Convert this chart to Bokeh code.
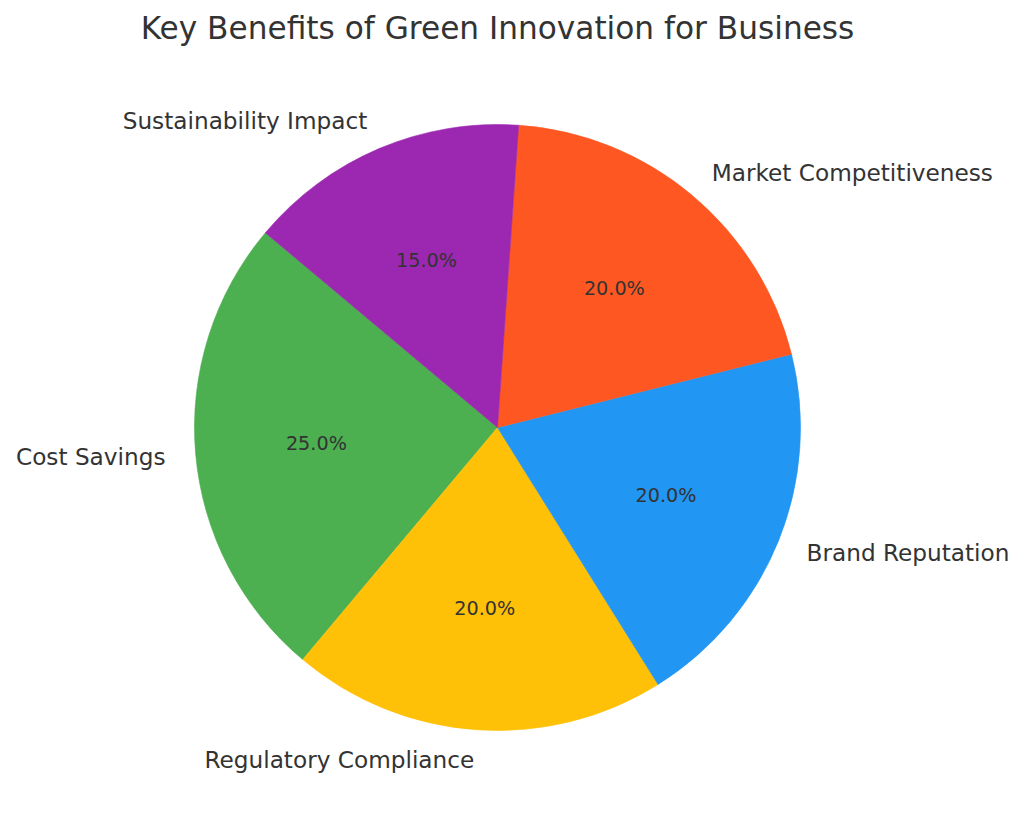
import numpy as np
from bokeh.plotting import figure
from bokeh.models import Range1d, ColumnDataSource
from bokeh.core.properties import value
from bokeh.embed import file_html
from bokeh.resources import INLINE

# ---- data ----
labels = ["Cost Savings", "Regulatory Compliance", "Brand Reputation",
          "Market Competitiveness", "Sustainability Impact"]
values = [25, 20, 20, 20, 15]
colors = ["#4CAF50", "#FFC107", "#2196F3", "#FF5722", "#9C27B0"]
title_text = "Key Benefits of Green Innovation for Business"
start_angle_deg = 140

# ---- layout (pixels) ----
W, H = 1016, 808
CX, CY, R = 497, 427, 303   # pie centre / radius in figure pixels
FONT = "DejaVu Sans"
TXT = "#333333"

vals = np.array(values, dtype=float)
frac = vals / vals.sum()
ends = start_angle_deg + 360 * np.cumsum(frac)
starts = ends - 360 * frac
mids = np.deg2rad((starts + ends) / 2)

src = ColumnDataSource(dict(
    start=np.deg2rad(starts), end=np.deg2rad(ends), color=colors, label=labels,
    lx=1.1 * np.cos(mids), ly=1.1 * np.sin(mids),
    px=0.6 * np.cos(mids), py=0.6 * np.sin(mids),
    pct=["%.1f%%" % (100 * f) for f in frac],
    align=["left" if np.cos(m) >= 0 else "right" for m in mids],
))

p = figure(width=W, height=H, output_backend="svg", toolbar_location=None,
           x_range=Range1d(-CX / R, (W - CX) / R),
           y_range=Range1d(-(H - CY) / R, CY / R),
           min_border=0, outline_line_color=None)
p.axis.visible = False
p.grid.visible = False
p.background_fill_color = "white"
p.border_fill_color = "white"

p.wedge(x=0, y=0, radius=1, start_angle="start", end_angle="end",
        direction="anticlock", fill_color="color",
        line_color="color", line_width=0.6, source=src)

p.text(x="lx", y="ly", text="label", text_align="align", text_baseline="middle",
       text_font=value(FONT), text_font_size="23.2px", text_color=TXT, source=src)
p.text(x="px", y="py", text="pct", text_align="center", text_baseline="middle",
       text_font=value(FONT), text_font_size="19.2px", text_color=TXT, source=src)

# title
p.text(x=[0], y=[(CY - 27) / R], text=[title_text], text_align="center",
       text_baseline="middle", text_font=value(FONT), text_font_size="31.2px",
       text_color=TXT)

open("out.html", "w").write(file_html(p, INLINE))
